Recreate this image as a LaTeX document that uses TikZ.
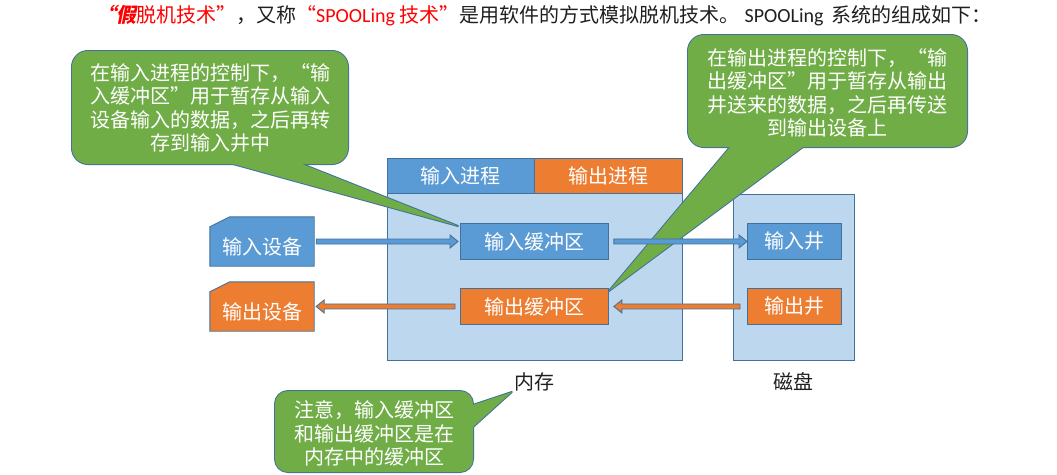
\documentclass[tikz,border=0pt]{standalone}
\usepackage{fontspec}
\setmainfont{Noto Sans CJK SC}
\newfontfamily\lat{Carlito}
\newfontfamily\bifont[FakeSlant=0.2]{Noto Sans CJK SC}
\usetikzlibrary{calc}
\definecolor{cblue}{HTML}{5B9BD5}
\definecolor{corange}{HTML}{ED7D31}
\definecolor{clight}{HTML}{BDD7EE}
\definecolor{cgreen}{HTML}{70AD47}
\definecolor{cborder}{HTML}{41719C}
\definecolor{tred}{HTML}{FF0000}
\definecolor{tdark}{HTML}{1F1F1F}
\newcommand\blkarrow[4]{%
  \draw[#1] let \p1=#2, \p2=#3 in
    ({\x1},{\y1+2.5pt}) -- ({\x2-(#4)},{\y1+2.5pt}) -- ({\x2-(#4)},{\y1+6.5pt})
    -- ({\x2},{\y1}) -- ({\x2-(#4)},{\y1-6.5pt}) -- ({\x2-(#4)},{\y1-2.5pt})
    -- ({\x1},{\y1-2.5pt}) -- cycle;}
\begin{document}
\begin{tikzpicture}[x=1pt,y=-1pt,
  box/.style={draw=cborder, line width=0.9pt, inner sep=0pt, anchor=north west,
    text=white, font=\fontsize{20}{24}\selectfont},
  bluebox/.style={box, fill=cblue},
  orgbox/.style={box, fill=corange},
  membox/.style={box, fill=clight},
  devframe/.style={minimum width=104pt, minimum height=49pt, inner sep=0pt},
  bluefill/.style={draw=cborder, line width=0.9pt, fill=cblue},
  orgfill/.style={draw=cborder, line width=0.9pt, fill=corange},
  devtext/.style={text=white, inner sep=0pt, font=\fontsize{20}{24}\selectfont},
  barrow/.style={draw=cborder, line width=0.9pt, fill=cblue},
  oarrow/.style={draw=cborder, line width=0.9pt, fill=corange},
  cstroke/.style={draw=cborder, line width=2pt, line join=round},
  cfill/.style={fill=cgreen},
  ctext/.style={text=white, align=center, inner sep=0pt, font=\fontsize{20}{23.5}\selectfont},
  lbl/.style={text=tdark, inner sep=0pt, font=\fontsize{20}{24}\selectfont}]
\useasboundingbox (0,0) rectangle (1057,474);

% title
\node[anchor=west, inner sep=0pt, text=tdark, font=\fontsize{20}{24}\selectfont] (title) at (96,16)
  {\textcolor{tred}{{\bifont\bfseries “假}脱机技术”}，又称\textcolor{tred}{“{\lat SPOOLing} 技术”}是用软件的方式模拟脱机技术。\hspace{5pt}{\lat SPOOLing}\hspace{3pt} 系统的组成如下：};

% memory
\node[membox, minimum width=295pt, minimum height=167pt] (mem) at (387,193) {};
\node[bluebox, minimum width=147pt, minimum height=35pt] (ip) at (387,158) {输入进程};
\node[orgbox, minimum width=148pt, minimum height=35pt] (op) at (534,158) {输出进程};
\node[bluebox, minimum width=148pt, minimum height=36pt] (ib) at (460,223) {输入缓冲区};
\node[orgbox, minimum width=148pt, minimum height=36pt] (ob) at (460,288) {输出缓冲区};

% disk
\node[membox, minimum width=121pt, minimum height=166pt] (disk) at (733,194) {};
\node[bluebox, minimum width=94pt, minimum height=36pt] (iw) at (747,223) {输入井};
\node[orgbox, minimum width=94pt, minimum height=36pt] (ow) at (747,288) {输出井};

% devices
\path (262,241.5) node[devframe] (idev) {};
\draw[bluefill] ($(idev.north west)+(20,0)$) -- (idev.north east) -- (idev.south east)
  -- (idev.south west) -- ($(idev.north west)+(0,10)$) -- cycle;
\node[devtext] (idevt) at ($(idev.center)+(0,5)$) {输入设备};
\path (262,306.5) node[devframe] (odev) {};
\draw[orgfill] ($(odev.north west)+(20,0)$) -- (odev.north east) -- (odev.south east)
  -- (odev.south west) -- ($(odev.north west)+(0,10)$) -- cycle;
\node[devtext] (odevt) at ($(odev.center)+(0,5)$) {输出设备};

% labels
\node[lbl] (meml) at (534,382) {内存};
\node[lbl] (diskl) at (793,382) {磁盘};

% callout 1
\coordinate (c1tip) at ($(ib.north west)+(-2,3)$);
\draw[cstroke, rounded corners=16pt] (72,51) rectangle (348,164);
\draw[cstroke] (218.5,160) -- (c1tip) -- (292,160) -- cycle;
\fill[cfill, rounded corners=16pt] (72,51) rectangle (348,164);
\fill[cfill] (218.5,160) -- (c1tip) -- (292,160) -- cycle;
\node[ctext] (t1) at (210,108) {在输入进程的控制下，“输\\入缓冲区”用于暂存从输入\\设备输入的数据，之后再转\\存到输入井中};

% callout 2
\coordinate (c2tip) at ($(ob.north east)+(0,3)$);
\draw[cstroke, rounded corners=16pt] (688,35) rectangle (967,147);
\draw[cstroke] (733.4,143) -- (c2tip) -- (808.4,143) -- cycle;
\fill[cfill, rounded corners=16pt] (688,35) rectangle (967,147);
\fill[cfill] (733.4,143) -- (c2tip) -- (808.4,143) -- cycle;
\node[ctext] (t2) at (827.5,93) {在输出进程的控制下，“输\\出缓冲区”用于暂存从输出\\井送来的数据，之后再传送\\到输出设备上};

% callout 3
\coordinate (c3tip) at ($(meml.west)+(-2,10)$);
\draw[cstroke, rounded corners=13pt] (275,391) rectangle (473,472);
\draw[cstroke] (469,406.3) -- (c3tip) -- (469,430.6) -- cycle;
\fill[cfill, rounded corners=13pt] (275,391) rectangle (473,472);
\fill[cfill] (469,406.3) -- (c3tip) -- (469,430.6) -- cycle;
\node[ctext] (t3) at (374,433.5) {注意，输入缓冲区\\和输出缓冲区是在\\内存中的缓冲区};

% arrows
\blkarrow{barrow}{($(idev.east)+(2,0)$)}{($(ib.west)+(-2,0)$)}{8pt}
\blkarrow{barrow}{($(ib.east)+(5,0)$)}{(iw.west)}{8pt}
\blkarrow{oarrow}{($(ow.west)+(-7,0)$)}{($(ob.east)+(5,0)$)}{-8pt}
\blkarrow{oarrow}{($(ob.west)+(-5,0)$)}{($(odev.east)+(2,0)$)}{-8pt}
\end{tikzpicture}
\end{document}
